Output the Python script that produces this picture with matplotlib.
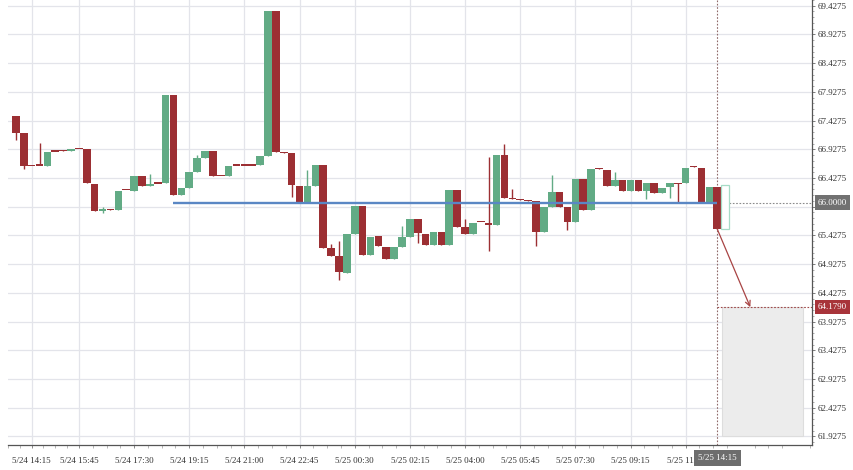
import matplotlib
matplotlib.use('Agg')
import matplotlib.pyplot as plt
import matplotlib.transforms as mtransforms
from matplotlib.patches import Rectangle

plt.rcParams['font.family'] = ['Liberation Serif', 'DejaVu Serif']

# ---- data (15-minute candles, index 1..90) ----
opens = [67.513, 67.212, 66.655, 66.655, 66.645, 66.902, 66.908, 66.895, 66.950, 66.934,
         66.327, 65.868, 65.884, 65.870, 66.226, 66.210, 66.466, 66.287, 66.342, 66.332,
         67.867, 66.136, 66.252, 66.535, 66.783, 66.900, 66.469, 66.466, 66.655, 66.655,
         66.655, 66.652, 66.813, 69.342, 66.882, 66.860, 66.292, 65.985, 66.292, 66.662,
         65.216, 65.072, 64.781, 65.459, 65.940, 65.089, 65.412, 65.221, 65.013, 65.221,
         65.401, 65.719, 65.454, 65.268, 65.493, 65.268, 66.217, 65.568, 65.454, 65.670,
         65.644, 65.610, 66.830, 66.075, 66.057, 66.040, 66.032, 65.481, 65.922, 66.176,
         65.915, 65.655, 66.408, 65.870, 66.595, 66.570, 66.280, 66.391, 66.193, 66.391,
         66.193, 66.339, 66.165, 66.275, 66.344, 66.339, 66.630, 66.610, 65.985, 66.275]
highs = [67.513, 67.212, 66.655, 67.039, 66.888, 66.902, 66.908, 66.929, 66.950, 66.934,
         66.327, 65.915, 65.884, 66.205, 66.226, 66.466, 66.466, 66.495, 66.342, 67.867,
         67.867, 66.252, 66.535, 66.830, 66.900, 66.900, 66.469, 66.639, 66.655, 66.655,
         66.655, 66.813, 69.342, 69.342, 66.882, 66.860, 66.292, 66.570, 66.662, 66.662,
         65.280, 65.325, 65.459, 65.940, 65.940, 65.407, 65.412, 65.221, 65.221, 65.592,
         65.719, 65.719, 65.454, 65.493, 65.493, 66.217, 66.217, 65.707, 65.644, 65.670,
         66.801, 66.830, 67.026, 66.235, 66.057, 66.040, 66.032, 65.922, 66.478, 66.176,
         65.915, 66.408, 66.408, 66.582, 66.595, 66.570, 66.540, 66.391, 66.391, 66.391,
         66.344, 66.339, 66.262, 66.332, 66.344, 66.610, 66.630, 66.610, 66.275, 66.275]
lows = [67.091, 66.587, 66.648, 66.648, 66.645, 66.897, 66.903, 66.895, 66.944, 66.332,
        65.853, 65.818, 65.878, 65.870, 66.220, 66.210, 66.287, 66.287, 66.336, 66.332,
        66.136, 66.136, 66.252, 66.535, 66.783, 66.460, 66.463, 66.466, 66.649, 66.649,
        66.649, 66.652, 66.813, 66.888, 66.866, 66.101, 65.985, 65.985, 66.292, 65.216,
        65.072, 64.660, 64.781, 65.459, 65.089, 65.089, 65.238, 65.013, 65.013, 65.221,
        65.401, 65.297, 65.262, 65.268, 65.268, 65.268, 65.575, 65.454, 65.454, 65.664,
        65.164, 65.610, 66.084, 66.069, 66.051, 66.034, 65.250, 65.481, 65.922, 65.915,
        65.528, 65.655, 65.870, 65.870, 66.589, 66.280, 66.280, 66.193, 66.193, 66.193,
        66.061, 66.165, 66.165, 66.079, 66.002, 66.339, 66.622, 65.985, 65.985, 65.540]
closes = [67.217, 66.645, 66.648, 66.650, 66.888, 66.897, 66.903, 66.929, 66.944, 66.332,
          65.853, 65.872, 65.878, 66.205, 66.220, 66.466, 66.287, 66.327, 66.336, 67.867,
          66.136, 66.252, 66.535, 66.783, 66.900, 66.460, 66.463, 66.639, 66.649, 66.649,
          66.649, 66.813, 69.342, 66.888, 66.866, 66.309, 65.985, 66.292, 66.662, 65.216,
          65.072, 64.787, 65.459, 65.940, 65.089, 65.407, 65.238, 65.013, 65.221, 65.401,
          65.719, 65.464, 65.262, 65.493, 65.268, 66.217, 65.575, 65.454, 65.644, 65.664,
          65.603, 66.830, 66.084, 66.069, 66.051, 66.034, 65.481, 65.922, 66.176, 65.915,
          65.655, 66.408, 65.870, 66.582, 66.589, 66.280, 66.391, 66.193, 66.391, 66.193,
          66.344, 66.165, 66.262, 66.332, 66.332, 66.610, 66.622, 65.985, 66.275, 65.540]

pending_top = 66.304
pending_bottom = 65.540

level_price = 66.0
level_start_bar = 21
target_price = 64.179
target_bar = 94.2
zone_bottom = 61.9275
zone_start_bar = 90.6
zone_end_bar = 100.9

xtick_bars = [3, 9, 16, 23, 30, 37, 44, 51, 58, 65, 72, 79, 86]
xtick_labels = ['5/24 14:15', '5/24 15:45', '5/24 17:30', '5/24 19:15', '5/24 21:00',
                '5/24 22:45', '5/25 00:30', '5/25 02:15', '5/25 04:00', '5/25 05:45',
                '5/25 07:30', '5/25 09:15', '5/25 11:00']
cursor_label = '5/25 14:15'
ytick_start = 61.9275
ytick_step = 0.5

# ---- styling ----
GREEN = '#62ab85'
RED = '#9c2f33'
GRID = '#e3e4ea'
FS = 6.5

fig = plt.figure(figsize=(8.54, 4.70), dpi=100)
ax = fig.add_axes([8 / 854, 25 / 470, 804 / 854, 445 / 470])
n = len(opens)
bars = list(range(1, n + 1))
last_bar = bars[-1]

ax.set_xlim(0.24, 102.03)
ax.set_ylim(61.778, 69.504)

# ticks / grid
yt = [ytick_start + ytick_step * k for k in range(16)]
ax.set_yticks(yt)
# the tick label hidden behind the level price box is left blank
ax.set_yticklabels(['' if abs(v - level_price) < 0.1 else f'{v:.4f}' for v in yt])
ax.set_xticks(xtick_bars)
ax.set_xticklabels(xtick_labels)
minors = []
for a, b in zip(xtick_bars[:-1], xtick_bars[1:]):
    st = (b - a) / 4
    minors += [a + st * j for j in range(1, 4)]
st0 = (xtick_bars[1] - xtick_bars[0]) / 4
minors += [xtick_bars[0] - st0 * j for j in (1, 2)]
stl = (xtick_bars[-1] - xtick_bars[-2]) / 4
j = 1
while xtick_bars[-1] + stl * j < 102:
    if (j % 4) != 0:
        minors.append(xtick_bars[-1] + stl * j)
    j += 1
ax.set_xticks(minors, minor=True)
ax.set_yticks([ytick_start + 0.1 * k for k in range(-1, 77)], minor=True)

ax.grid(True, which='major', color=GRID, lw=0.9, zorder=0)
ax.set_axisbelow(True)

for s in ('left', 'top'):
    ax.spines[s].set_visible(False)
for s in ('right', 'bottom'):
    ax.spines[s].set_color('#555555')
    ax.spines[s].set_linewidth(0.9)
ax.yaxis.tick_right()
ax.tick_params(axis='y', which='major', length=2.5, width=0.6, color='#666666',
               pad=1.5, labelsize=FS, labelcolor='#333333')
ax.tick_params(axis='y', which='minor', length=1.5, width=0.5, color='#888888')
ax.tick_params(axis='x', which='major', length=2.5, width=0.6, color='#777777',
               pad=6, labelsize=FS, labelcolor='#333333')
ax.tick_params(axis='x', which='minor', length=2.0, width=0.5, color='#999999')

# zone rectangle
ax.add_patch(Rectangle((zone_start_bar, zone_bottom), zone_end_bar - zone_start_bar,
                       target_price - zone_bottom, facecolor='#ececec',
                       edgecolor='#dddddd', lw=0.8, zorder=1))

# candles
w = 0.96
min_h = 0.022
for x, o, h, l, c in zip(bars, opens, highs, lows, closes):
    col = GREEN if c > o else RED
    ax.vlines(x, l, h, color=col, lw=1.0, zorder=3)
    bot = min(o, c)
    hgt = abs(c - o)
    if hgt < min_h:
        bot = (o + c) / 2 - min_h / 2
        hgt = min_h
    ax.add_patch(Rectangle((x - w / 2, bot), w, hgt, facecolor=col, edgecolor='none', zorder=4))

# pending (hollow) candle
ax.add_patch(Rectangle((last_bar + 1 - w / 2, pending_bottom), w, pending_top - pending_bottom,
                       facecolor='white', edgecolor='#a6dcc6', lw=0.9, zorder=4))

# level line
ax.plot([level_start_bar, last_bar], [level_price, level_price], color='#5a87c4', lw=1.7,
        zorder=5, solid_capstyle='butt')

# dotted lines
ax.plot([last_bar + 1.45, 102.03], [level_price, level_price], color='#8a8a8a', lw=0.8,
        ls=(0, (1.5, 1.5)), zorder=2, clip_on=False)
ax.plot([last_bar, 102.03], [target_price, target_price], color='#a04848', lw=0.8,
        ls=(0, (1.5, 1.5)), zorder=2, clip_on=False)
ax.axvline(last_bar, color='#8f6a6a', lw=0.8, ls=(0, (1.5, 1.5)), zorder=2)

# arrow
ax.annotate('', xy=(target_bar, target_price), xytext=(last_bar, closes[-1]),
            arrowprops=dict(arrowstyle='->', color='#a84444', lw=0.9,
                            shrinkA=0, shrinkB=0, mutation_scale=9), zorder=6)

# price labels on the right
trans_y = mtransforms.blended_transform_factory(ax.transAxes, ax.transData)
xr = 1.0 + 6.0 / 804
ax.text(xr, level_price, f'{level_price:.4f}', transform=trans_y, ha='left', va='center',
        fontsize=FS, color='white', clip_on=False, zorder=10,
        bbox=dict(boxstyle='square,pad=0.35', fc='#717171', ec='none'))
ax.text(xr, target_price, f'{target_price:.4f}', transform=trans_y, ha='left', va='center',
        fontsize=FS, color='white', clip_on=False, zorder=10,
        bbox=dict(boxstyle='square,pad=0.32', fc='#a8343a', ec='none'))

# cursor time label
trans_x = mtransforms.blended_transform_factory(ax.transData, ax.transAxes)
ax.text(last_bar, -13 / 445, cursor_label, transform=trans_x, ha='center', va='center',
        fontsize=FS, color='white', clip_on=False, zorder=10,
        bbox=dict(boxstyle='square,pad=0.45', fc='#6d6d6d', ec='none'))

fig.savefig('out.png', dpi=100)
